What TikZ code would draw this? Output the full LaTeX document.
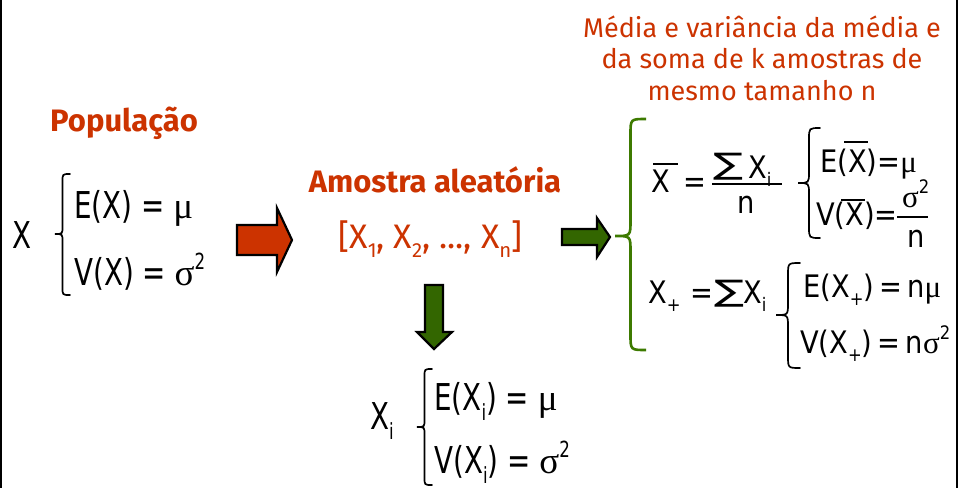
\documentclass[tikz,border=0pt]{standalone}
\usepackage{fontspec}
\setmainfont[FakeStretch=0.75]{DejaVu Sans}
\newfontfamily\rfont[FakeStretch=0.88]{DejaVu Sans}
\newfontfamily\orfont{Fira Sans}
\newfontfamily\grk{Liberation Serif}
\definecolor{orng}{HTML}{CC3300}
\definecolor{grnfill}{HTML}{336600}
\definecolor{grnline}{HTML}{3D7A00}
\newcommand\lsub[1]{\raisebox{-0.28em}{\scalebox{0.6}{#1}}}
\newcommand\usup[1]{\raisebox{0.42em}{\scalebox{0.6}{#1}}}
\newcommand\mymu{{\grk μ}}
\newcommand\mysig{{\grk σ}}
\newcommand\bigsum{\resizebox*{30pt}{27pt}{\rfont ∑}}
\newcommand\lbr[6][]{%
 \pgfmathsetmacro\bxm{(#2+#3)/2}\pgfmathsetmacro\brr{(#2-#3)/2}%
 \draw[#1] (#2,#4) .. controls (\bxm,#4) .. (\bxm,{#4+\brr}) -- (\bxm,{#5-\brr})
   .. controls (\bxm,#5) .. (#3,#5) .. controls (\bxm,#5) .. (\bxm,{#5+\brr})
   -- (\bxm,{#6-\brr}) .. controls (\bxm,#6) .. (#2,#6);}
\tikzset{
  txt/.style={inner sep=0pt, anchor=base west},
  big/.style={font=\fontsize{37}{43}\selectfont},
  mid/.style={font=\rfont\fontsize{31}{36}\selectfont},
  orbold/.style={inner sep=0pt, anchor=base, text=orng, font=\orfont\bfseries\fontsize{31}{36}\selectfont},
  ortxt/.style={inner sep=0pt, anchor=base, text=orng, font=\orfont\fontsize{27}{32}\selectfont},
  fatarrow/.style={draw=black, line width=2.2pt, line join=miter},
  blkbrace/.style={line width=1.7pt, line cap=round},
  barline/.style={line width=1.5pt},
}
\begin{document}
\begin{tikzpicture}[x=1pt,y=-1pt]
\useasboundingbox (0,0) rectangle (959,488);
\fill[white] (0,0) rectangle (959,488);
% borders
\draw[line width=2.5pt] (1.2,0) -- (1.2,488);
\draw[line width=2.5pt] (957,0) -- (957,488);

% Population
\node[orbold, anchor=base west] (pop) at (50,131) {População};
\node[txt, big] (X) at (12,248) {X};
\lbr[blkbrace]{70}{55}{174}{234}{295}
\node[txt, big] (EX) at (74,218) {E(X) = \mymu};
\node[txt, big] (VX) at (74,285) {V(X) = \mysig\usup{2}};

% red arrow
\draw[fatarrow, fill=orng] (237,225) -- (277,225) -- (277,208) -- (292,240) -- (277,272) -- (277,255) -- (237,255) -- cycle;

% sample
\node[orbold] (am) at (435,192) {Amostra aleatória};
\node[ortxt, anchor=base west, font=\orfont\fontsize{34}{38}\selectfont] (samp) at (338,248) {[X\lsub{1}, X\lsub{2}, ..., X\lsub{n}]};

% green right arrow
\draw[fatarrow, fill=grnfill] (562,229) -- (597,229) -- (597,218) -- (610,237) -- (597,257) -- (597,245) -- (562,245) -- cycle;
% green down arrow
\draw[fatarrow, fill=grnfill] (425,285) -- (443,285) -- (443,332) -- (452,332) -- (434,349) -- (417,332) -- (425,332) -- cycle;

% Xi block
\node[txt, big] (Xi) at (370,429) {X\lsub{i}};
\lbr[blkbrace]{432}{417}{369}{427}{485}
\node[txt, big] (EXi) at (434,410) {E(X\lsub{i}) = \mymu};
\node[txt, big] (VXi) at (434,473) {V(X\lsub{i}) = \mysig\usup{2}};

% header
\node[ortxt] (h1) at (762,37) {Média e variância da média e};
\node[ortxt] (h2) at (762,68) {da soma de k amostras de};
\node[ortxt] (h3) at (762,100) {mesmo tamanho n};

% green big brace
\lbr[line width=2.6pt, draw=grnline]{646}{615}{119}{236}{350}

% row 1
\node[txt, mid] (xbar) at (651,192) {X};
\draw[barline] (653,164) -- (678,164);
\node[txt, mid] (eq1) at (683,192) {=};
\node[txt, anchor=south west] (sig1) at (713,180) {\bigsum};
\node[txt, mid] (num1) at (748,178) {X\lsub{i}};
\draw[barline] (712,184) -- (782,184);
\node[txt, mid] (den1) at (737,213) {n};
\lbr[blkbrace]{820}{798}{128}{183}{238}
\node[txt, mid] (EXb) at (820,172) {E(X)=\mymu};
\draw[barline] (844,142) -- (868,142);
\node[txt, mid] (VXb) at (816,225) {V(X)=};
\draw[barline] (841,200) -- (865,200);
\node[txt, mid] (s2) at (902,207) {\mysig\usup{2}};
\draw[barline] (897,217) -- (928,217);
\node[txt, mid] (den2) at (907,247) {n};

% row 2
\node[txt, mid] (xp) at (648,303) {X\lsub{+}};
\node[txt, mid] (eq2) at (690,303) {=};
\node[txt, anchor=south west] (sig2) at (714,307) {\bigsum};
\node[txt, mid] (xi2) at (743,303) {X\lsub{i}};
\lbr[blkbrace]{800}{776}{263}{315}{368}
\node[txt, mid] (EXp) at (803,297) {E(X\lsub{+})\,=\,n\mymu};
\node[txt, mid] (VXp) at (800,353) {V(X\lsub{+})\,=\,n\mysig\usup{2}};
\end{tikzpicture}
\end{document}
